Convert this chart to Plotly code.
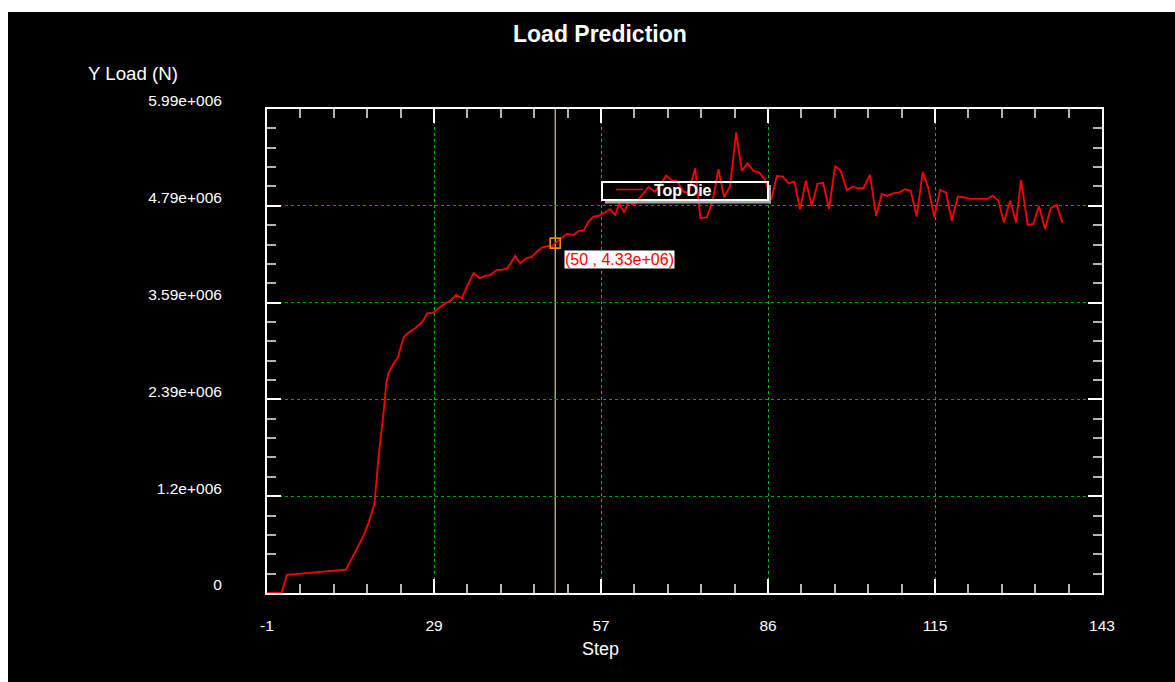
import plotly.graph_objects as go

# Top die load history (step, load in N)
step = [
    0.3, 2.82, 3.75, 13.92, 16.85, 17.81, 18.85, 19.54, 20.40, 20.87,
    21.26, 22.02, 22.88, 23.85, 24.71, 25.87, 27.12, 27.99, 28.92, 29.88,
    31.04, 31.90, 32.93, 33.92, 34.78, 35.92, 36.95, 37.93, 38.79, 39.95,
    40.81, 41.78, 43.10, 43.97, 45.00, 45.86, 46.85, 47.71, 48.84, 49.43,
    50.00, 50.86, 52.02, 53.15, 54.10, 54.88, 55.74, 56.60, 57.46, 58.45,
    59.48, 60.34, 61.08, 61.90, 62.64, 63.62, 64.65, 66.08, 67.24, 68.27,
    69.14, 70.12, 70.98, 72.12, 72.98, 74.14, 75.05, 76.15, 77.19, 78.15,
    79.14, 80.17, 81.20, 82.19, 83.22, 84.19, 85.22, 86.20, 87.24, 88.22,
    89.26, 90.22, 91.25, 92.23, 93.22, 94.25, 95.22, 96.20, 97.23, 98.27,
    99.25, 100.29, 101.32, 102.29, 103.15, 104.30, 105.34, 106.32, 107.29, 108.32,
    109.30, 110.34, 111.32, 112.35, 113.39, 114.35, 115.39, 116.37, 117.40, 118.39,
    119.42, 120.39, 121.42, 122.41, 123.44, 124.42, 125.46, 126.42, 127.40, 128.44,
    129.47, 130.33, 131.49, 132.45, 133.43, 134.47, 135.45, 136.49, 137.45,
]
load = [
    0, 0, 2.26e5, 2.88e5, 6.93e5, 8.66e5, 1.111e6, 1.69e6, 2.226e6, 2.597e6,
    2.721e6, 2.824e6, 2.919e6, 3.166e6, 3.223e6, 3.278e6, 3.359e6, 3.463e6, 3.463e6, 3.525e6,
    3.587e6, 3.615e6, 3.689e6, 3.649e6, 3.792e6, 3.958e6, 3.896e6, 3.924e6, 3.937e6, 3.999e6,
    3.999e6, 4.02e6, 4.172e6, 4.082e6, 4.143e6, 4.156e6, 4.225e6, 4.274e6, 4.296e6, 4.287e6,
    4.33e6, 4.378e6, 4.444e6, 4.432e6, 4.481e6, 4.481e6, 4.596e6, 4.658e6, 4.666e6, 4.704e6,
    4.749e6, 4.679e6, 4.824e6, 4.707e6, 4.843e6, 4.803e6, 4.898e6, 5.022e6, 4.967e6, 5.075e6,
    5.165e6, 5.103e6, 5.103e6, 4.967e6, 4.955e6, 5.256e6, 4.638e6, 4.650e6, 4.864e6, 5.244e6,
    4.898e6, 5.038e6, 5.702e6, 5.227e6, 5.318e6, 5.223e6, 5.202e6, 5.112e6, 4.864e6, 5.161e6,
    5.153e6, 5.071e6, 5.091e6, 4.749e6, 5.103e6, 4.790e6, 5.062e6, 5.078e6, 4.753e6, 5.285e6,
    5.227e6, 4.988e6, 5.029e6, 5.009e6, 5.009e6, 5.174e6, 4.666e6, 4.939e6, 4.914e6, 4.947e6,
    4.955e6, 4.997e6, 4.979e6, 4.658e6, 5.214e6, 5.009e6, 4.650e6, 4.988e6, 4.955e6, 4.608e6,
    4.905e6, 4.898e6, 4.880e6, 4.877e6, 4.873e6, 4.877e6, 4.918e6, 4.856e6, 4.584e6, 4.856e6,
    4.584e6, 5.112e6, 4.555e6, 4.568e6, 4.790e6, 4.506e6, 4.762e6, 4.803e6, 4.584e6,
]

# Probe point shown by the cursor
cursor_step = 50
cursor_load = 4.33e6

series_name = "Top Die"
x_ticktext = ["-1", "29", "57", "86", "115", "143"]
y_ticktext = ["0", "1.2e+006", "2.39e+006", "3.59e+006", "4.79e+006", "5.99e+006"]
x_range = [0.3, 144.3]
y_range = [0, 5.99e6]

FONT = "Liberation Sans, Arial, sans-serif"
W, H = 1175, 682
L, R, T, B = 267, 1102, 109, 593   # plot area edges in pixels


def fx(p):
    return (p - L) / (R - L)


def fy(p):
    return (B - p) / (B - T)


def divisions(lo, hi, n=5):
    return [lo + k * (hi - lo) / n for k in range(n + 1)]


x_ticks = divisions(*x_range)
y_ticks = divisions(*y_range)

fig = go.Figure()
fig.add_trace(go.Scatter(
    x=step, y=load, mode="lines", name=series_name,
    line=dict(color="#ff0000", width=1.8), showlegend=False,
))
fig.add_trace(go.Scatter(
    x=[cursor_step], y=[cursor_load], mode="markers", showlegend=False,
    marker=dict(symbol="square-open", size=10, color="#f08a10",
                line=dict(width=1.6, color="#f08a10")),
))

axis_common = dict(
    tickmode="array", ticks="inside", ticklen=14, tickwidth=1.5, tickcolor="#ffffff",
    showline=True, linecolor="#ffffff", linewidth=2, mirror="allticks",
    showgrid=True, gridwidth=1.2, griddash="3px,3px",
    zeroline=False, layer="below traces",
    tickfont=dict(family=FONT, size=15.5, color="#ffffff"),
)

fig.update_xaxes(
    range=x_range, tickvals=x_ticks, ticktext=x_ticktext, gridcolor="#00c000",
    ticklabelstandoff=17,
    minor=dict(ticks="inside", ticklen=9, tickwidth=1.5, tickcolor="#b4b4b4",
               tick0=x_range[0], dtick=(x_range[1] - x_range[0]) / 25, showgrid=False),
    **axis_common,
)
fig.update_yaxes(
    range=y_range, tickvals=y_ticks, ticktext=y_ticktext, gridcolor="#00a400",
    ticklabelstandoff=40, ticklabelshift=-8,
    minor=dict(ticks="inside", ticklen=9, tickwidth=1.5, tickcolor="#b4b4b4",
               tick0=y_range[0], dtick=(y_range[1] - y_range[0]) / 25, showgrid=False),
    **axis_common,
)

shapes = [
    # black panel
    dict(type="rect", xref="paper", yref="paper", layer="below",
         x0=fx(8), x1=fx(W + 10), y0=fy(H + 10), y1=fy(12),
         fillcolor="#000000", line=dict(width=0)),
    # cursor line
    dict(type="line", xref="x", yref="paper", layer="below",
         x0=cursor_step, x1=cursor_step, y0=0, y1=1,
         line=dict(color="#f6f6b0", width=1)),
    # legend box shadow
    dict(type="rect", xref="paper", yref="paper", layer="above",
         x0=fx(605), x1=fx(771), y0=fy(203.5), y1=fy(200.5),
         fillcolor="#a8a8a8", line=dict(width=0)),
    dict(type="rect", xref="paper", yref="paper", layer="above",
         x0=fx(768.5), x1=fx(771), y0=fy(203.5), y1=fy(185),
         fillcolor="#a8a8a8", line=dict(width=0)),
    # legend box
    dict(type="rect", xref="paper", yref="paper", layer="above",
         x0=fx(602), x1=fx(768), y0=fy(200), y1=fy(182),
         line=dict(color="#ffffff", width=2)),
    # legend sample
    dict(type="line", xref="paper", yref="paper", layer="above",
         x0=fx(616), x1=fx(643), y0=fy(189.5), y1=fy(189.5),
         line=dict(color="#ff0000", width=1.5)),
]

annotations = [
    dict(text="<b>Load Prediction</b>", x=fx(600), y=fy(34), xref="paper", yref="paper",
         showarrow=False, xanchor="center", yanchor="middle",
         font=dict(family=FONT, size=23, color="#ffffff")),
    dict(text="Y Load (N)", x=fx(133), y=fy(74), xref="paper", yref="paper",
         showarrow=False, xanchor="center", yanchor="middle",
         font=dict(family=FONT, size=18.7, color="#ffffff")),
    dict(text="Step", x=fx(600), y=fy(649), xref="paper", yref="paper",
         showarrow=False, xanchor="center", yanchor="middle",
         font=dict(family=FONT, size=18, color="#ffffff")),
    dict(text="<b>" + series_name + "</b>", x=fx(652), y=fy(190.5), xref="paper", yref="paper",
         showarrow=False, xanchor="left", yanchor="middle",
         font=dict(family=FONT, size=16, color="#ffffff")),
    dict(text=f"({cursor_step} , {cursor_load:.2e})", x=cursor_step, y=cursor_load,
         xref="x", yref="y", showarrow=False, xanchor="left", yanchor="top",
         xshift=9, yshift=-7, bgcolor="#ffffff", borderpad=0,
         font=dict(family=FONT, size=16, color="#ff0000")),
]

fig.update_layout(
    width=W, height=H,
    margin=dict(l=L, r=W - R, t=T, b=H - B, pad=0),
    paper_bgcolor="#ffffff", plot_bgcolor="#000000",
    font=dict(family=FONT, color="#ffffff"),
    shapes=shapes, annotations=annotations, showlegend=False,
)

fig.write_html("out.html")
